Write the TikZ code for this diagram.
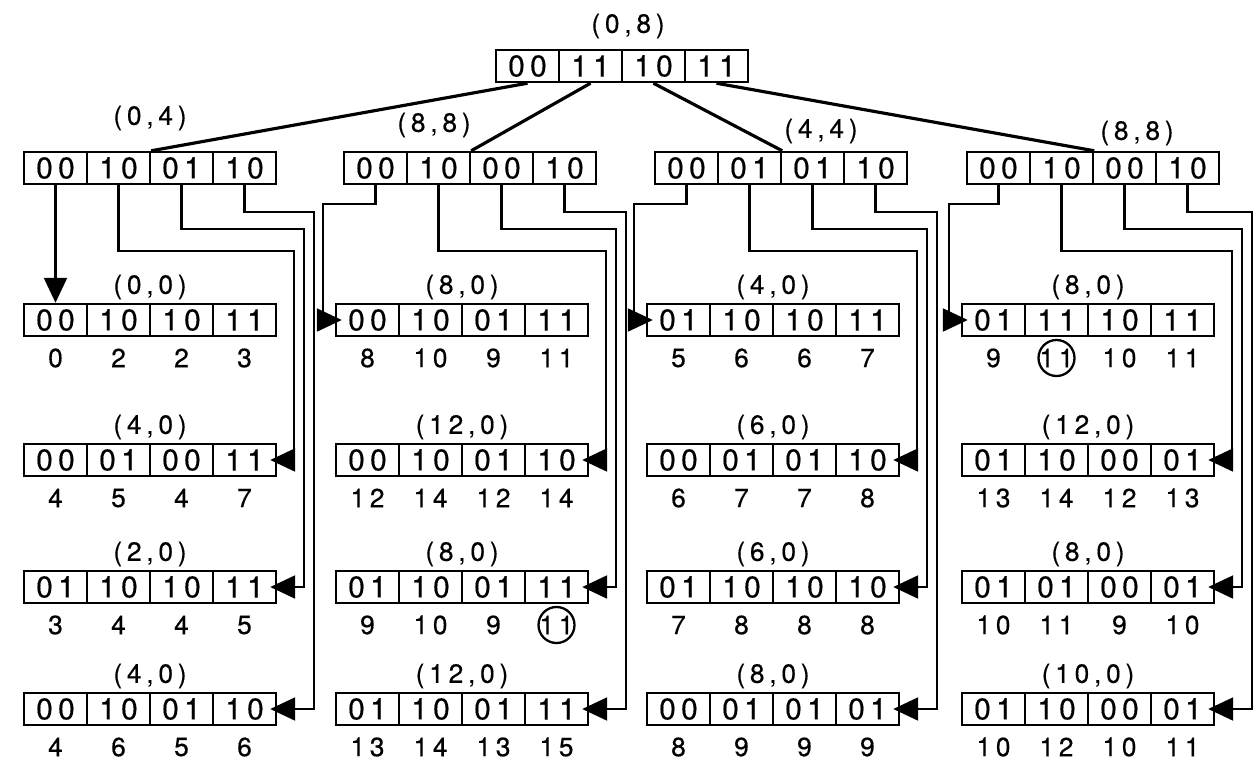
\documentclass[tikz,border=0pt]{standalone}
\usepackage{fontspec}
\newfontfamily\bitfont{TeX Gyre Heros}[LetterSpace=18, FakeBold=0.4]
\usetikzlibrary{arrows.meta, positioning, calc}

\begin{document}
\begin{tikzpicture}[
    x=0.02cm, y=-0.02cm,
    font=\bitfont\fontsize{15}{17}\selectfont,
    cell/.style={draw, line width=1.4pt, minimum width=1.26cm, minimum height=0.64cm,
                 inner sep=0pt, font=\bitfont\fontsize{17}{19}\selectfont},
    tag/.style={inner sep=1pt},
    num/.style={inner sep=1pt},
    ring/.style={draw, circle, line width=1.3pt, minimum size=0.72cm, inner sep=0pt},
    edge/.style={line width=1.8pt},
    link/.style={line width=1.3pt, -{Triangle[length=0.5cm, width=0.46cm]},
                 shorten >=-0.14cm}
  ]
    \useasboundingbox (0,0) rectangle (1255,778);

    % root and second level
    \foreach \n/\x/\y/\bits in {t/622/66/{00,11,10,11}, a/150/168/{00,10,01,10},
        b/470/168/{00,10,00,10}, c/781/168/{00,01,01,10}, d/1093/168/{00,10,00,10}} {
      \foreach \v [count=\k] in \bits
        \node[cell] (\n-\k) at (\x+\k*63-157.5,\y) {\v};
    }
    \node[tag] (t-lab) at (628,26) {(0,8)};
    \node[tag] (a-lab) at (150,118) {(0,4)};
    \node[tag] (b-lab) at (434,125) {(8,8)};
    \node[tag] (c-lab) at (821,131) {(4,4)};
    \node[tag] (d-lab) at (1137,133) {(8,8)};

    % leaves
    \foreach \n/\x/\y/\lab/\bits/\nums in {
        a1/150/320/{(0,0)}/{00,10,10,11}/{0,2,2,3},
        a2/150/460/{(4,0)}/{00,01,00,11}/{4,5,4,7},
        a3/150/587/{(2,0)}/{01,10,10,11}/{3,4,4,5},
        a4/150/709/{(4,0)}/{00,10,01,10}/{4,6,5,6},
        b1/462/320/{(8,0)}/{00,10,01,11}/{8,10,9,11},
        b2/462/460/{(12,0)}/{00,10,01,10}/{12,14,12,14},
        b3/462/587/{(8,0)}/{01,10,01,11}/{9,10,9,11},
        b4/462/709/{(12,0)}/{01,10,01,11}/{13,14,13,15},
        c1/773/320/{(4,0)}/{01,10,10,11}/{5,6,6,7},
        c2/773/460/{(6,0)}/{00,01,01,10}/{6,7,7,8},
        c3/773/587/{(6,0)}/{01,10,10,10}/{7,8,8,8},
        c4/773/709/{(8,0)}/{00,01,01,01}/{8,9,9,9},
        d1/1088/320/{(8,0)}/{01,11,10,11}/{9,11,10,11},
        d2/1088/460/{(12,0)}/{01,10,00,01}/{13,14,12,13},
        d3/1088/587/{(8,0)}/{01,01,00,01}/{10,11,9,10},
        d4/1088/709/{(10,0)}/{01,10,00,01}/{10,12,10,11}} {
      \node[tag] (\n-lab) at (\x,\y-33) {\lab};
      \foreach \v [count=\k] in \bits
        \node[cell] (\n-\k) at (\x+\k*63-157.5,\y) {\v};
      \foreach \v [count=\k] in \nums
        \node[num] (\n-n\k) at (\x+\k*63-157.5,\y+38) {\v};
    }
    \node[ring] (b3-ring) at (b3-n4) {};
    \node[ring] (d1-ring) at (d1-n2) {};

    % root to second level
    \foreach \p [count=\k] in {a,b,c,d}
      \draw[edge] (t-\k.south) -- (\p-2.north east);

    % second level to leaves
    \draw[link, shorten >=0pt] (a-1.south) -- (a1-1.north);
    \foreach \p/\w in {b/336, c/647, d/962}
      \draw[link] (\p-1.south) |- (\w-13,204) |- (\p1-1.west);
    \foreach \p/\e in {a/276, b/588, c/899, d/1214} {
      \draw[link] (\p-2.south) |- (\e+18,251) |- (\p2-4.east);
      \draw[link] (\p-3.south) |- (\e+28,229) |- (\p3-4.east);
      \draw[link] (\p-4.south) |- (\e+38,212) |- (\p4-4.east);
    }
\end{tikzpicture}
\end{document}
